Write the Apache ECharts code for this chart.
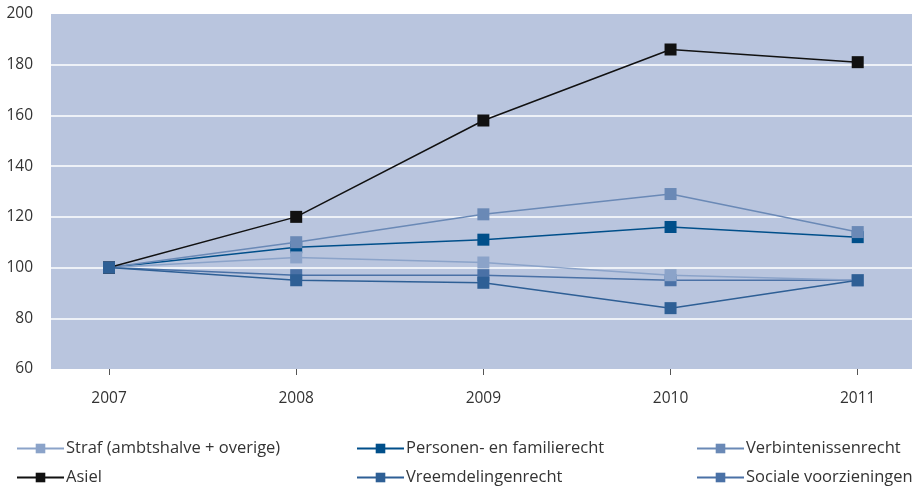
<!DOCTYPE html>
<html><head><meta charset="utf-8">
<script src="https://cdn.jsdelivr.net/npm/echarts@6/dist/echarts.min.js"></script>
<style>html,body{margin:0;padding:0;background:#fff}#c{width:913px;height:491px}</style>
</head><body><div id="c"></div>
<script>
var years = [2007, 2008, 2009, 2010, 2011];
var yTicks = [60, 80, 100, 120, 140, 160, 180, 200];
var names = ['Straf (ambtshalve + overige)', 'Personen- en familierecht', 'Verbintenissenrecht', 'Asiel', 'Vreemdelingenrecht', 'Sociale voorzieningen'];
var straf = [100, 104, 102, 97, 95];
var personen = [100, 108, 111, 116, 112];
var verbintenissen = [100, 110, 121, 129, 114];
var asiel = [100, 120, 158, 186, 181];
var vreemdelingen = [100, 95, 94, 84, 95];
var sociale = [100, 97, 97, 95, 95];

var colors = {};
colors[names[0]] = '#8ba3c9';
colors[names[1]] = '#004f8a';
colors[names[2]] = '#6a89b6';
colors[names[3]] = '#111111';
colors[names[4]] = '#2e5f95';
colors[names[5]] = '#4a71a6';

function pairs(v){ return years.map(function(y,i){ return [y, v[i]]; }); }
function mk(name, vals, z){
  return { name: name, type: 'line', data: pairs(vals), symbol: 'rect', symbolSize: 12,
    z: z, lineStyle: { color: colors[name], width: 1.5 }, itemStyle: { color: colors[name] },
    emphasis: { disabled: true }, animation: false };
}
var font = 'Open Sans, Noto Sans, sans-serif';
function leg(name, left, top){
  return { data: [name], left: left, top: top, itemWidth: 47, itemHeight: 12, itemGap: 0,
    padding: 0, textStyle: { fontSize: 16.5, color: '#333', fontFamily: font, padding: [0,0,0,-3] },
    selectedMode: false };
}
var chart = echarts.init(document.getElementById('c'));
chart.setOption({
  animation: false,
  grid: { left: 51, right: 1, top: 14, bottom: 122, show: true, backgroundColor: '#b9c5de', borderWidth: 0 },
  xAxis: { type: 'value', min: 2006.69, max: 2011.29,
    axisLine: { show: false },
    axisTick: { show: true, customValues: years, length: 6, lineStyle: { color: '#555' } },
    axisLabel: { customValues: years, margin: 22, fontSize: 15.5, color: '#333', fontFamily: font,
      formatter: function(v){ return String(v); } },
    splitLine: { show: false } },
  yAxis: { type: 'value', min: yTicks[0], max: yTicks[yTicks.length-1], interval: 20,
    axisLine: { show: false }, axisTick: { show: false },
    axisLabel: { margin: 18, fontSize: 15.5, color: '#333', fontFamily: font },
    splitLine: { show: true, showMinLine: false, showMaxLine: false, lineStyle: { color: '#ffffff', width: 1.5 } } },
  legend: [
    leg(names[0], 16, 440), leg(names[1], 356, 440), leg(names[2], 696, 440),
    leg(names[3], 16, 469), leg(names[4], 356, 469), leg(names[5], 696, 469)
  ],
  series: [
    mk(names[1], personen, 2),
    mk(names[5], sociale, 3),
    mk(names[0], straf, 4),
    mk(names[2], verbintenissen, 5),
    mk(names[3], asiel, 6),
    mk(names[4], vreemdelingen, 7)
  ]
});
</script></body></html>
